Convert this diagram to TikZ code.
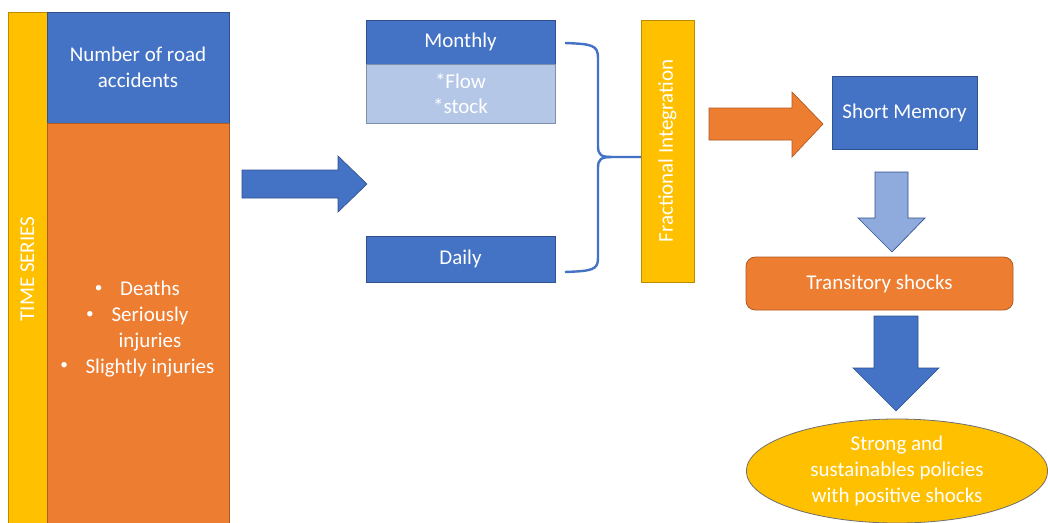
\documentclass[tikz,border=0pt]{standalone}
\usepackage{fontspec}
\setmainfont{Carlito}
\usetikzlibrary{shapes.geometric}
\definecolor{cblue}{HTML}{4472C4}
\definecolor{cblueedge}{HTML}{2F528F}
\definecolor{corange}{HTML}{ED7D31}
\definecolor{corangeedge}{HTML}{AE5A21}
\definecolor{cyellow}{HTML}{FFC000}
\definecolor{cyellowedge}{HTML}{BC8C00}
\definecolor{clight}{HTML}{B4C7E7}
\definecolor{clightedge}{HTML}{7F8FA9}
\definecolor{carrowlight}{HTML}{8FAADC}
\definecolor{cgrayedge}{HTML}{6F6F6F}
\newcommand{\mybul}{\makebox[19.5pt][l]{\hspace*{0.5pt}\raisebox{0.17em}{\fontsize{11.5}{11.5}\selectfont\textbullet}}}
\begin{document}
\begin{tikzpicture}[x=0.75pt,y=-0.75pt,
  every node/.style={inner sep=0pt, outer sep=0pt, text=white, align=center,
    font=\fontsize{15.75}{19.3}\selectfont},
  bluebox/.style={rectangle, fill=cblue, draw=cblueedge, line width=0.6pt},
  orangebox/.style={rectangle, fill=corange, draw=corangeedge, line width=0.6pt},
  yellowbar/.style={rectangle, fill=cyellow, draw=cyellowedge, line width=0.6pt},
  lightbox/.style={rectangle, fill=clight, draw=clightedge, line width=0.6pt},
  bluearrow/.style={fill=cblue, draw=cblueedge, line width=0.5pt},
  orangearrow/.style={fill=corange, draw=corangeedge, line width=0.5pt},
  lightarrow/.style={fill=carrowlight, draw=cblueedge, line width=0.5pt},
  bracestyle/.style={draw=cblue, line width=1.8pt}
]
\useasboundingbox (0,0) rectangle (1048,522);
\fill[white] (0,0) rectangle (1048,522);

% left column
\node[yellowbar, rotate=90, minimum width=385.5pt, minimum height=29.25pt] (ts) at (27.5,269) {TIME SERIES};
\node[bluebox, minimum width=136.5pt, minimum height=83.25pt] (nr) at (138,67.5) {Number of road\\accidents};
\node[orangebox, minimum width=136.5pt, minimum height=301.5pt] (cat) at (138,324) {};
\node (catlist) at (137,329)
  {\mybul Deaths\\
   \mybul Seriously\\
   \hspace*{19.5pt}injuries\\
   \mybul Slightly injuries};

% big blue arrow
\path[bluearrow] (242,170) -- (338,170) -- (338,156) -- (367,184) -- (338,212) -- (338,198) -- (242,198) -- cycle;

% monthly / daily
\node[bluebox, minimum width=141.75pt, minimum height=33pt] (monthly) at (460.5,42) {Monthly};
\node[lightbox, minimum width=141.75pt, minimum height=44.25pt] (flow) at (460.5,93.5) {*Flow\\*stock};
\node[bluebox, minimum width=141.75pt, minimum height=34.5pt] (daily) at (460.5,259) {Daily};

% fractional integration
\node[yellowbar, rotate=90, minimum width=196.5pt, minimum height=39.75pt] (fi) at (667.5,151) {Fractional Integration};

% brace
\coordinate (bt) at (565,43);
\coordinate (bb) at (565,272);
\coordinate (bm) at (641,157);
\draw[bracestyle] (bt) .. controls (592,44) and (598,45) .. (598,58) -- (598,146)
  .. controls (598,155) and (601,157) .. (612,157) -- (bm);
\draw[bracestyle] (612,157) .. controls (601,157) and (598,159) .. (598,168) -- (598,258)
  .. controls (598,270) and (592,271) .. (bb);

% orange arrow
\path[orangearrow] (709,108) -- (792,108) -- (792,92) -- (823,124) -- (792,157) -- (792,140) -- (709,140) -- cycle;

% short memory
\node[bluebox, minimum width=108.75pt, minimum height=54.75pt] (sm) at (904.5,112.5) {Short Memory};

% light blue down arrow
\path[lightarrow] (875,172) -- (908,172) -- (908,218) -- (925,218) -- (892,252) -- (858,218) -- (875,218) -- cycle;

% transitory shocks
\node[orangebox, rounded corners=7pt, minimum width=200.25pt, minimum height=39.75pt] (tr) at (879.5,283.5) {Transitory shocks};

% blue down arrow
\path[bluearrow] (874,316) -- (918,316) -- (918,368) -- (939,368) -- (896,411) -- (853,368) -- (874,368) -- cycle;

% ellipse
\node[ellipse, fill=cyellow, draw=cgrayedge, line width=0.6pt, minimum width=226pt, minimum height=78pt] (pol) at (897,471)
  {Strong and\\sustainables policies\\with positive shocks};
\end{tikzpicture}
\end{document}
